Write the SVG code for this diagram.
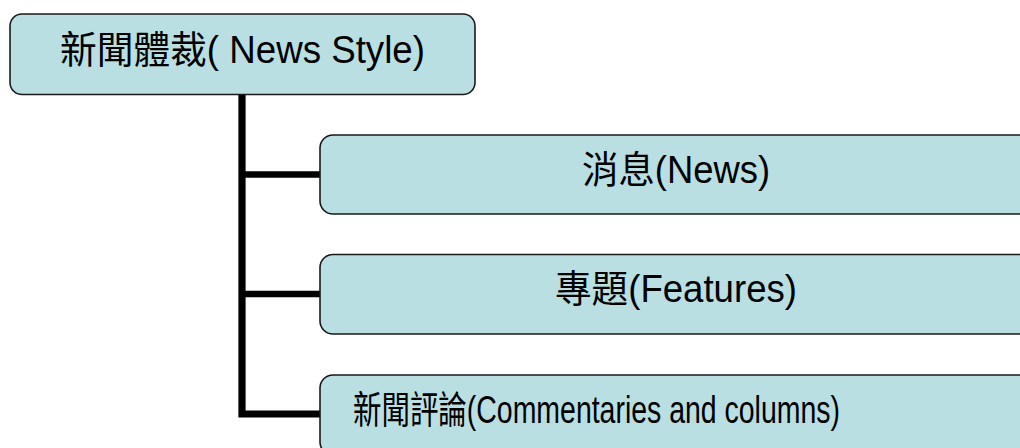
<svg xmlns="http://www.w3.org/2000/svg" width="1020" height="448" viewBox="0 0 1020 448">
<style>
.box{fill:#B9DFE2;stroke:#1a1a1a;stroke-width:1.6}
.lbl{font-family:"Liberation Sans","Noto Sans CJK TC",Arial,sans-serif;font-size:38px;fill:#000}
.conn{fill:none;stroke:#000;stroke-linejoin:miter;stroke-linecap:butt}
</style>
<rect width="1020" height="448" fill="#fff"/>
<g id="connectors">
<path class="conn" stroke-width="7.2" d="M242,95 V414 H320"/>
<path class="conn" stroke-width="6.5" d="M242,174.5 H320"/>
<path class="conn" stroke-width="6.5" d="M242,294 H320"/>
</g>
<g id="node-root">
<rect class="box" x="10" y="14" width="465" height="80.5" rx="12" ry="12"/>
<text class="lbl" x="60" y="63" textLength="365" lengthAdjust="spacingAndGlyphs">新聞體裁( News Style)</text>
</g>
<g id="node-news">
<rect class="box" x="320" y="135" width="712" height="79" rx="13" ry="13"/>
<text class="lbl" x="582" y="183" textLength="188" lengthAdjust="spacingAndGlyphs">消息(News)</text>
</g>
<g id="node-features">
<rect class="box" x="320" y="254.5" width="712" height="79.5" rx="13" ry="13"/>
<text class="lbl" x="555" y="302" textLength="242" lengthAdjust="spacingAndGlyphs">專題(Features)</text>
</g>
<g id="node-commentaries">
<rect class="box" x="320" y="375" width="712" height="80" rx="13" ry="13"/>
<text class="lbl" x="353" y="423" textLength="487" lengthAdjust="spacingAndGlyphs">新聞評論(Commentaries and columns)</text>
</g>
</svg>
